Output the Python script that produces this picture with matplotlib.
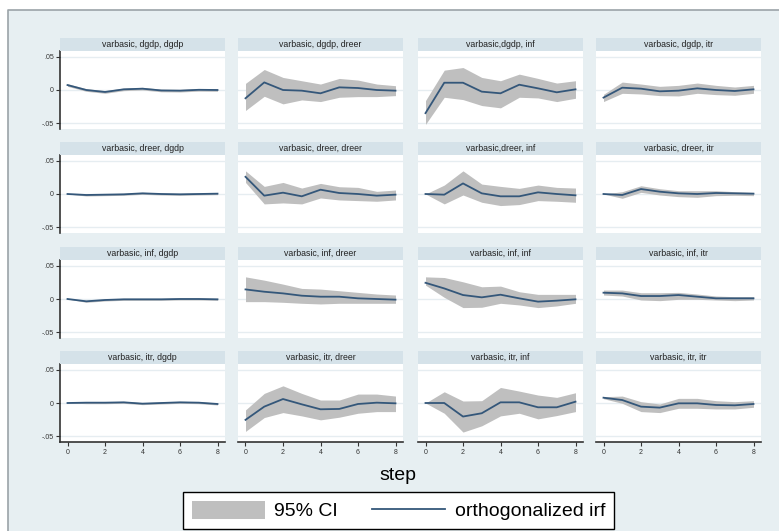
import matplotlib
matplotlib.use("Agg")
import matplotlib.pyplot as plt
from matplotlib.patches import Rectangle, Patch
from matplotlib.lines import Line2D

plt.rcParams["font.family"] = ["Liberation Sans", "DejaVu Sans"]

STEPS = [0, 1, 2, 3, 4, 5, 6, 7, 8]
IMPULSES = ["dgdp", "dreer", "inf", "itr"]
RESPONSES = ["dgdp", "dreer", "inf", "itr"]
TITLES = [
    "varbasic, dgdp, dgdp", "varbasic, dgdp, dreer", "varbasic,dgdp, inf", "varbasic, dgdp, itr",
    "varbasic, dreer, dgdp", "varbasic, dreer, dreer", "varbasic,dreer, inf", "varbasic, dreer, itr",
    "varbasic, inf, dgdp", "varbasic, inf, dreer", "varbasic, inf, inf", "varbasic, inf, itr",
    "varbasic, itr, dgdp", "varbasic, itr, dreer", "varbasic, itr, inf", "varbasic, itr, itr",
]

# impulse dgdp
dgdp_dgdp = [0.0075, 0.0, -0.003, 0.001, 0.002, -0.0007, -0.001, 0.0003, 0.0]
dgdp_dgdp_lo = [0.0055, -0.002, -0.005, -0.001, 0.0, -0.0027, -0.003, -0.0017, -0.002]
dgdp_dgdp_hi = [0.0095, 0.002, -0.001, 0.003, 0.004, 0.0013, 0.001, 0.0023, 0.002]
dgdp_dreer = [-0.0125, 0.0115, 0.0, -0.001, -0.005, 0.004, 0.003, 0.0, -0.001]
dgdp_dreer_lo = [-0.031, -0.0095, -0.021, -0.015, -0.0175, -0.011, -0.010, -0.010, -0.0085]
dgdp_dreer_hi = [0.01, 0.031, 0.019, 0.014, 0.009, 0.0175, 0.015, 0.009, 0.0065]
dgdp_inf = [-0.035, 0.011, 0.011, -0.0025, -0.005, 0.008, 0.0025, -0.0035, 0.001]
dgdp_inf_lo = [-0.052, -0.011, -0.0145, -0.0235, -0.027, -0.011, -0.012, -0.0175, -0.0125]
dgdp_inf_hi = [-0.016, 0.030, 0.034, 0.019, 0.014, 0.024, 0.0175, 0.0105, 0.014]
dgdp_itr = [-0.0115, 0.0035, 0.002, -0.002, -0.001, 0.0025, 0.0, -0.0015, 0.001]
dgdp_itr_lo = [-0.0175, -0.005, -0.006, -0.0085, -0.009, -0.005, -0.007, -0.008, -0.005]
dgdp_itr_hi = [-0.0065, 0.012, 0.009, 0.0055, 0.007, 0.0105, 0.007, 0.0045, 0.007]

# impulse dreer
dreer_dgdp = [0.0, -0.0015, -0.001, -0.0005, 0.001, 0.0, -0.0005, 0.0, 0.0005]
dreer_dgdp_lo = [0.0, -0.003, -0.0025, -0.002, -0.0005, -0.0015, -0.002, -0.0015, -0.001]
dreer_dgdp_hi = [0.0, 0.0, 0.0005, 0.001, 0.0025, 0.0015, 0.001, 0.0015, 0.002]
dreer_dreer = [0.026, -0.0025, 0.002, -0.0035, 0.0065, 0.0015, 0.0, -0.0025, -0.001]
dreer_dreer_lo = [0.0175, -0.015, -0.0135, -0.015, -0.006, -0.009, -0.010, -0.011, -0.009]
dreer_dreer_hi = [0.035, 0.0115, 0.0175, 0.009, 0.016, 0.011, 0.010, 0.004, 0.006]
dreer_inf = [0.0, -0.001, 0.016, 0.001, -0.0035, -0.0035, 0.0025, 0.0, -0.002]
dreer_inf_lo = [0.0, -0.015, -0.0015, -0.0125, -0.0175, -0.016, -0.010, -0.011, -0.0125]
dreer_inf_hi = [0.0, 0.0135, 0.035, 0.015, 0.0115, 0.0085, 0.0135, 0.010, 0.009]
dreer_itr = [0.0, -0.0015, 0.0075, 0.0035, 0.001, 0.0, 0.0015, 0.001, 0.0005]
dreer_itr_lo = [0.0, -0.0065, 0.0025, -0.0015, -0.004, -0.005, -0.0025, -0.002, -0.0025]
dreer_itr_hi = [0.0, 0.0035, 0.0125, 0.008, 0.005, 0.005, 0.005, 0.0035, 0.0025]

# impulse inf
inf_dgdp = [0.0, -0.0035, -0.0015, -0.0005, -0.0005, -0.0005, 0.0, 0.0, -0.0005]
inf_dgdp_lo = [0.0, -0.005, -0.003, -0.002, -0.002, -0.002, -0.0015, -0.0015, -0.002]
inf_dgdp_hi = [0.0, -0.002, 0.0, 0.001, 0.001, 0.001, 0.0015, 0.0015, 0.001]
inf_dreer = [0.0145, 0.011, 0.0085, 0.005, 0.0035, 0.0035, 0.001, 0.0, -0.001]
inf_dreer_lo = [-0.004, -0.004, -0.005, -0.0065, -0.0075, -0.0065, -0.0065, -0.0065, -0.0065]
inf_dreer_hi = [0.0335, 0.0285, 0.0225, 0.016, 0.015, 0.0125, 0.010, 0.0075, 0.006]
inf_inf = [0.0245, 0.016, 0.006, 0.0025, 0.0065, 0.001, -0.004, -0.0025, -0.0005]
inf_inf_lo = [0.021, 0.0025, -0.013, -0.0125, -0.0065, -0.009, -0.013, -0.0105, -0.0065]
inf_inf_hi = [0.0335, 0.0325, 0.026, 0.0185, 0.0195, 0.011, 0.007, 0.007, 0.007]
inf_itr = [0.0095, 0.0085, 0.0045, 0.0045, 0.006, 0.0035, 0.001, 0.001, 0.001]
inf_itr_lo = [0.006, 0.0045, -0.0015, -0.0025, -0.0005, -0.0005, -0.0015, -0.0025, -0.0015]
inf_itr_hi = [0.0135, 0.0135, 0.0095, 0.0095, 0.010, 0.0075, 0.0045, 0.0035, 0.0035]

# impulse itr
itr_dgdp = [0.0, 0.0005, 0.0005, 0.001, -0.001, 0.0, 0.001, 0.0005, -0.0015]
itr_dgdp_lo = [0.0, -0.001, -0.001, -0.0005, -0.0025, -0.0015, -0.0005, -0.001, -0.003]
itr_dgdp_hi = [0.0, 0.002, 0.002, 0.0025, 0.0005, 0.0015, 0.0025, 0.002, 0.0]
itr_dreer = [-0.0255, -0.0055, 0.006, -0.002, -0.0095, -0.009, -0.0015, 0.0005, -0.0005]
itr_dreer_lo = [-0.043, -0.022, -0.0145, -0.0195, -0.0255, -0.0215, -0.0155, -0.013, -0.013]
itr_dreer_hi = [-0.0105, 0.0145, 0.026, 0.0145, 0.0045, 0.0045, 0.0135, 0.0135, 0.0105]
itr_inf = [0.0, 0.0, -0.0205, -0.0155, 0.001, 0.001, -0.0065, -0.0065, 0.002]
itr_inf_lo = [0.0, -0.0155, -0.044, -0.0345, -0.0195, -0.0155, -0.024, -0.019, -0.013]
itr_inf_hi = [0.0, 0.017, 0.003, 0.0035, 0.0235, 0.018, 0.012, 0.0085, 0.0155]
itr_itr = [0.008, 0.0045, -0.0055, -0.007, -0.0005, -0.0005, -0.003, -0.0035, -0.0015]
itr_itr_lo = [0.0065, -0.0005, -0.013, -0.0145, -0.008, -0.008, -0.009, -0.009, -0.0065]
itr_itr_hi = [0.0095, 0.0105, 0.002, -0.0015, 0.007, 0.007, 0.0035, 0.002, 0.0035]

Y_TICKS = [-0.05, 0, 0.05]
Y_LABELS = ["-.05", "0", ".05"]
X_TICKS = [0, 2, 4, 6, 8]

BG = "#E7EFF2"
STRIP = "#D5E2E9"
LINE = "#34577A"
BAND = "#BFBFBF"

W, H = 779, 531
COL_X = [60, 238, 418, 596]
COL_W = 165
ROW_Y = [51, 155, 260, 364]
ROW_H = 78
STRIP_H = 13


def fbox(x, y, w, h):
    # pixel box (top-left origin) -> figure fraction
    return [x / W, 1 - (y + h) / H, w / W, h / H]


fig = plt.figure(figsize=(W / 100, H / 100), dpi=100)
fig.patches.append(Rectangle((8 / W, 0), 1 - 8 / W, 1 - 10 / H, transform=fig.transFigure,
                             facecolor=BG, edgecolor="none", zorder=-10))
# border only on top and left, like the screenshot crop
fig.lines.append(Line2D([8 / W, 8 / W, 1], [0, 1 - 10 / H, 1 - 10 / H],
                        transform=fig.transFigure, color="#9BA3A8", linewidth=1.2))

data = globals()
for r, imp in enumerate(IMPULSES):
    for c, resp in enumerate(RESPONSES):
        key = f"{imp}_{resp}"
        irf, lo, hi = data[key], data[key + "_lo"], data[key + "_hi"]
        x0, y0 = COL_X[c], ROW_Y[r]
        # title strip
        fig.patches.append(Rectangle((x0 / W, 1 - y0 / H), COL_W / W, STRIP_H / H,
                                     transform=fig.transFigure, facecolor=STRIP, edgecolor="none"))
        fig.text((x0 + COL_W / 2) / W, 1 - (y0 - STRIP_H / 2) / H, TITLES[r * 4 + c],
                 ha="center", va="center", fontsize=6.3, color="#222222")
        ax = fig.add_axes(fbox(x0, y0, COL_W, ROW_H))
        ax.fill_between(STEPS, lo, hi, color=BAND, linewidth=0, zorder=2)
        ax.plot(STEPS, irf, color=LINE, linewidth=1.3, zorder=3)
        for yv in Y_TICKS:
            ax.axhline(yv, color="#E6EDF1", linewidth=1, zorder=1)
        ax.set_xlim(-0.4, 8.4)
        ax.set_ylim(-0.059, 0.059)
        for s in ax.spines.values():
            s.set_visible(False)
        ax.set_yticks(Y_TICKS)
        ax.set_xticks(X_TICKS)
        if c == 0:
            ax.spines["left"].set_visible(True)
            ax.spines["left"].set_color("#333333")
            ax.spines["left"].set_linewidth(1.2)
            ax.set_yticklabels(Y_LABELS, fontsize=5)
            ax.tick_params(axis="y", length=3, width=0.8, pad=1.5, colors="#333333")
        else:
            ax.tick_params(axis="y", length=0, labelleft=False)
        if r == 3:
            ax.spines["bottom"].set_visible(True)
            ax.spines["bottom"].set_color("#333333")
            ax.spines["bottom"].set_linewidth(1.2)
            ax.tick_params(axis="x", length=3, width=0.8, pad=2, labelsize=5, colors="#333333")
        else:
            ax.tick_params(axis="x", length=0, labelbottom=False)

fig.text(398 / W, 1 - 475 / H, "step", ha="center", va="center", fontsize=14)

handles = [Patch(facecolor=BAND, edgecolor="none"), Line2D([], [], color=LINE, linewidth=1.3)]
leg = fig.legend(handles, ["95% CI", "orthogonalized irf"], ncol=2, loc="center",
                 bbox_to_anchor=(398.5 / W, 1 - 510.5 / H), fontsize=14, frameon=True,
                 fancybox=False, edgecolor="black", facecolor="white", framealpha=1,
                 handlelength=3.75, handleheight=1.08, columnspacing=1.75, handletextpad=0.5,
                 borderpad=0.45, borderaxespad=0)
leg.get_frame().set_linewidth(1)

fig.savefig("out.png", dpi=100)
